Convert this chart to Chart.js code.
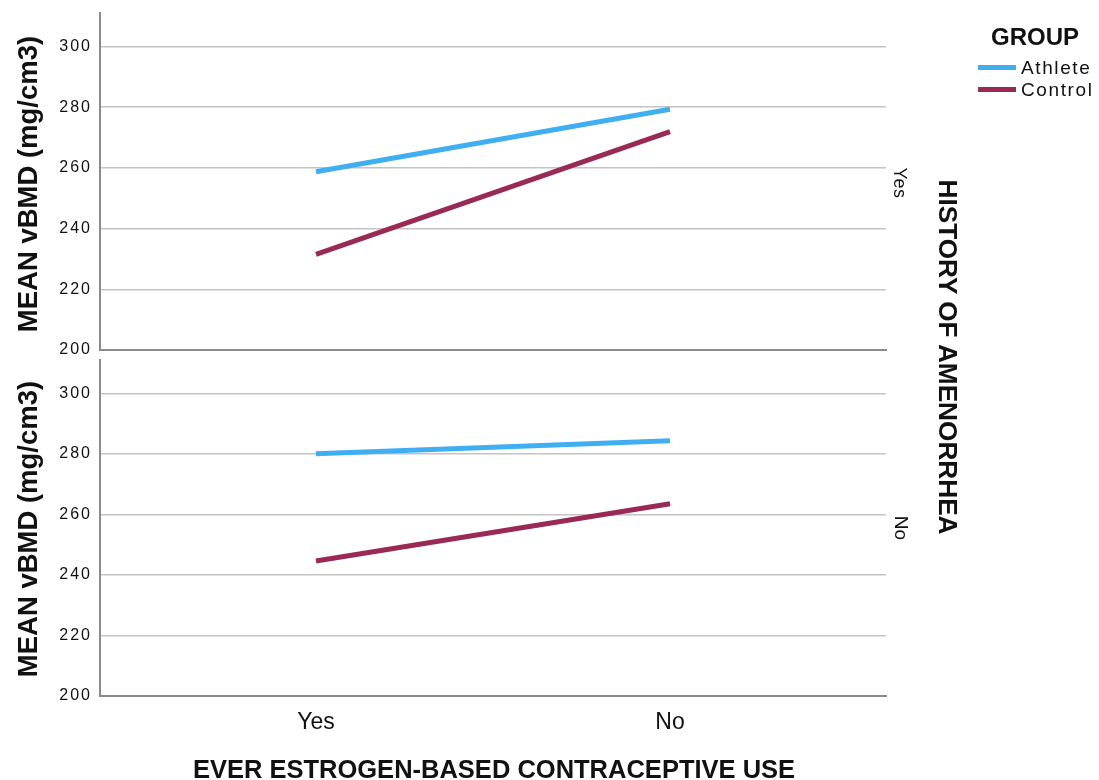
<!DOCTYPE html>
<html>
<head>
<meta charset="utf-8">
<script src="https://cdn.jsdelivr.net/npm/chart.js@4.4.1/dist/chart.umd.min.js"></script>
<style>
  html, body { margin: 0; padding: 0; background: #fff; }
  body { width: 1099px; height: 780px; position: relative; overflow: hidden;
         font-family: "Liberation Sans", Arial, sans-serif; color: #111; }
  canvas { position: absolute; left: 0; }
  .lbl { position: absolute; white-space: nowrap; transform-origin: center center; line-height: 1; }
  .bold { font-weight: bold; }
  .swatch { position: absolute; height: 5px; width: 38px; }
</style>
</head>
<body>
<canvas id="topPanel" width="1099" height="377" style="top:-7px"></canvas>
<canvas id="bottomPanel" width="1099" height="440" style="top:340px"></canvas>

<div class="lbl bold" style="left:28px;top:184px;font-size:27.5px;transform:translate(-50%,-50%) rotate(-90deg)">MEAN vBMD (mg/cm3)</div>
<div class="lbl bold" style="left:28px;top:529px;font-size:27.5px;transform:translate(-50%,-50%) rotate(-90deg)">MEAN vBMD (mg/cm3)</div>
<div class="lbl" style="left:900px;top:183px;font-size:18px;letter-spacing:0.5px;transform:translate(-50%,-50%) rotate(90deg)">Yes</div>
<div class="lbl" style="left:901px;top:528px;font-size:19px;transform:translate(-50%,-50%) rotate(90deg)">No</div>
<div class="lbl bold" style="left:948px;top:357px;font-size:26.2px;transform:translate(-50%,-50%) rotate(90deg)">HISTORY OF AMENORRHEA</div>
<div class="lbl bold" style="left:494px;top:770px;font-size:25.5px;transform:translate(-50%,-50%)">EVER ESTROGEN-BASED CONTRACEPTIVE USE</div>

<div class="lbl bold" style="left:1035px;top:37px;font-size:24px;transform:translate(-50%,-50%)">GROUP</div>
<div class="swatch" style="left:978px;top:65px;background:#40aff2"></div>
<div class="lbl" style="left:1021px;top:67px;font-size:19px;letter-spacing:1.6px;transform:translateY(-50%)">Athlete</div>
<div class="swatch" style="left:978px;top:87px;background:#992a55"></div>
<div class="lbl" style="left:1021px;top:89px;font-size:19px;letter-spacing:1.6px;transform:translateY(-50%)">Control</div>

<script>
// Levels of estrogen-based contraceptive use (x axis)
const contraceptiveUse = ['Yes', 'No'];
// y axis tick values
const vbmdTicks = [200, 220, 240, 260, 280, 300];
// Mean vBMD, history of amenorrhea = Yes
const athleteAmenYes = [258.7, 279.3];
const controlAmenYes = [231.5, 271.9];
// Mean vBMD, history of amenorrhea = No
const athleteAmenNo = [280.0, 284.3];
const controlAmenNo = [244.6, 263.5];

const ATHLETE = '#40aff2';
const CONTROL = '#992a55';
const FONT = "'Liberation Sans', Arial, sans-serif";

// Spaced-out value labels on the y axis; x category labels stay tight.
const spacing = {
  id: 'spacing',
  afterLayout(chart) {
    const xs = chart.scales.x;
    if (!xs._tightLabels) {
      const base = xs.drawLabels;
      xs.drawLabels = function (area) {
        const prev = this.ctx.letterSpacing;
        this.ctx.letterSpacing = '0px';
        base.call(this, area);
        this.ctx.letterSpacing = prev;
      };
      xs._tightLabels = true;
    }
  },
  beforeDraw(chart) { chart.ctx.letterSpacing = '2px'; }
};

function series(values) {
  return values.map((v, i) => ({ x: i, y: v }));
}

function makePanel(id, athlete, control, showX, padTop, xHeight) {
  return new Chart(document.getElementById(id), {
    type: 'line',
    data: {
      datasets: [
        { label: 'Athlete', data: series(athlete), borderColor: ATHLETE, backgroundColor: ATHLETE,
          borderWidth: 5, pointRadius: 0, tension: 0, borderCapStyle: 'butt' },
        { label: 'Control', data: series(control), borderColor: CONTROL, backgroundColor: CONTROL,
          borderWidth: 5, pointRadius: 0, tension: 0, borderCapStyle: 'butt' }
      ]
    },
    options: {
      responsive: false,
      animation: false,
      devicePixelRatio: 1,
      layout: { padding: { left: 0, top: padTop, right: 213, bottom: 0 } },
      plugins: { legend: { display: false }, tooltip: { enabled: false } },
      scales: {
        x: {
          type: 'linear',
          min: -0.61, max: 1.61,
          afterBuildTicks(s) { s.ticks = contraceptiveUse.map((_, i) => ({ value: i })); },
          afterFit(s) { s.height = xHeight; },
          grid: { display: false, drawTicks: false },
          border: { display: true, color: '#8a8a8a', width: 2 },
          ticks: {
            display: showX,
            padding: 13,
            color: '#111',
            font: { family: FONT, size: 23 },
            callback: (v) => contraceptiveUse[v] ?? ''
          }
        },
        y: {
          min: 200, max: 311,
          afterBuildTicks(s) { s.ticks = vbmdTicks.map(v => ({ value: v })); },
          afterFit(s) { s.width = 100; },
          grid: { color: '#c4c4c4', lineWidth: 1.5, drawTicks: false },
          border: { display: true, color: '#8a8a8a', width: 2 },
          ticks: {
            padding: 8,
            color: '#111',
            font: { family: FONT, size: 16 }
          }
        }
      }
    },
    plugins: [spacing]
  });
}

makePanel('topPanel', athleteAmenYes, controlAmenYes, false, 20, 20);
makePanel('bottomPanel', athleteAmenNo, controlAmenNo, true, 20, 84);
</script>
</body>
</html>
